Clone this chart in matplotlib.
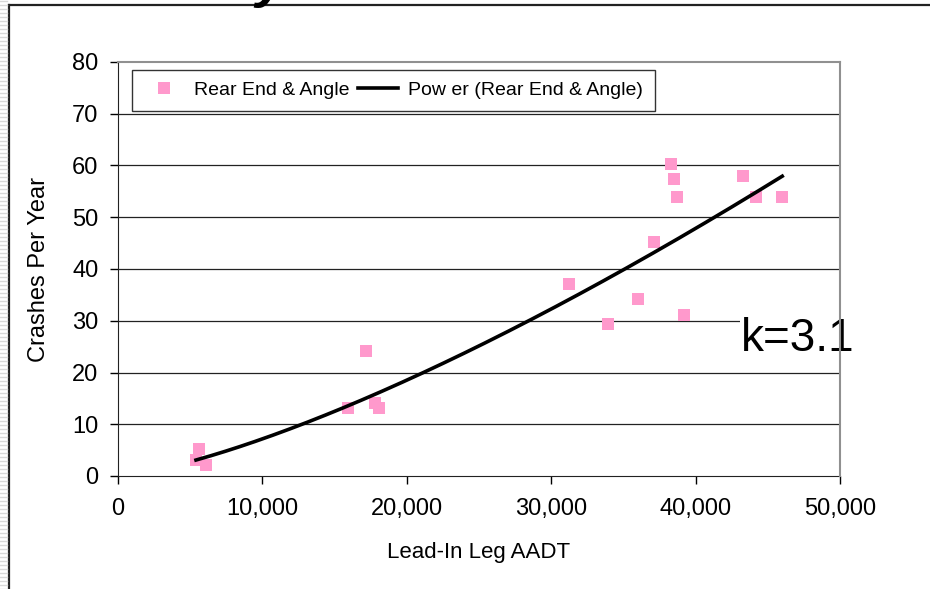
#!/usr/bin/env python3
# -*- coding: utf-8 -*-

"""
Rear end & angle crashes per year against lead-in leg AADT, with power trendline.
"""

import numpy as np
from matplotlib import pyplot as plt
from matplotlib.lines import Line2D
from matplotlib.ticker import FuncFormatter

# DATA ########################################################################

aadt = [5400, 5600, 6100, 15900, 17200, 17800, 18100, 31200, 33900, 36000,
        37100, 38300, 38500, 38700, 39200, 43300, 44200, 46000]
crashes = [3.1, 5.2, 2.1, 13.1, 24.2, 14.1, 13.1, 37.1, 29.3, 34.2,
           45.2, 60.2, 57.3, 53.9, 31.1, 58.0, 53.9, 53.9]

x_ticks = [0, 10000, 20000, 30000, 40000, 50000]
y_ticks = [0, 10, 20, 30, 40, 50, 60, 70, 80]

series_label = "Rear End & Angle"
trend_label = "Pow er (Rear End & Angle)"
note = "k=3.1"

PINK = '#ff99cc'

# POWER TRENDLINE (least squares on log-log, like Excel) #####################

b, ln_a = np.polyfit(np.log(aadt), np.log(crashes), 1)
x_fit = np.linspace(min(aadt), max(aadt), 200)
y_fit = np.exp(ln_a) * x_fit ** b

# PLOT ########################################################################

plt.rcParams['font.family'] = ['Liberation Sans', 'DejaVu Sans']

fig = plt.figure(figsize=(9.30, 5.89), dpi=100)
ax = fig.add_axes([118 / 930, 1 - 476 / 589, 722 / 930, 414 / 589])

for yv in y_ticks[1:-1]:
    ax.axhline(yv, color='#222222', lw=0.9, zorder=1)

ax.plot(aadt, crashes, 's', color=PINK, ms=8, mew=0, zorder=2)
ax.plot(x_fit, y_fit, '-', color='black', lw=2.6, zorder=3)

ax.set_xlim(0, 50000)
ax.set_ylim(0, 80)
ax.set_xticks(x_ticks)
ax.set_yticks(y_ticks)
ax.xaxis.set_major_formatter(FuncFormatter(lambda v, p: "{:,.0f}".format(v)))
ax.tick_params(direction='out', length=6, width=1, labelsize=17)
ax.tick_params(axis='x', pad=10)
ax.tick_params(axis='y', pad=8)

for side in ('left', 'bottom'):
    ax.spines[side].set_color('#222222')
for side in ('top', 'right'):
    ax.spines[side].set_color('#909090')
    ax.spines[side].set_linewidth(1.5)
    ax.spines[side].set_zorder(6)

ax.set_xlabel("Lead-In Leg AADT", fontsize=16, labelpad=16)
ax.set_ylabel("Crashes Per Year", fontsize=17, labelpad=16)

handles = [Line2D([], [], ls='none', marker='s', color=PINK, ms=8, mew=0),
           Line2D([], [], color='black', lw=2.6)]
leg = ax.legend(handles, [series_label, trend_label], loc='upper left',
                bbox_to_anchor=(14 / 722, 1 - 8 / 414), ncol=2, fontsize=14,
                frameon=True, fancybox=False, borderaxespad=0,
                handlelength=2.1, handletextpad=0.5, columnspacing=0.4,
                borderpad=0.6)
leg.get_frame().set_edgecolor('black')
leg.get_frame().set_linewidth(1.0)
leg.set_zorder(7)

ax.text((741 - 118) / 722, 0.33, note, transform=ax.transAxes, fontsize=33,
        ha='left', va='center', zorder=5,
        bbox=dict(facecolor='white', edgecolor='none', pad=1))

# SLIDE FRAME #################################################################

fig.add_artist(Line2D([9 / 930, 9 / 930], [0, 1 - 5 / 589],
                      transform=fig.transFigure, color='#222222', lw=1.6))
fig.add_artist(Line2D([9 / 930, 1], [1 - 5 / 589, 1 - 5 / 589],
                      transform=fig.transFigure, color='#222222', lw=1.6))
for yy in range(0, 589, 4):
    fig.add_artist(Line2D([0, 7 / 930], [yy / 589, yy / 589],
                          transform=fig.transFigure, color='#d8d8d8', lw=1))

fig.text(255 / 930, 1 + 4 / 589, 'y', fontsize=40, fontweight='bold',
         style='italic', va='baseline', ha='left')

fig.savefig('out.png', dpi=100)
